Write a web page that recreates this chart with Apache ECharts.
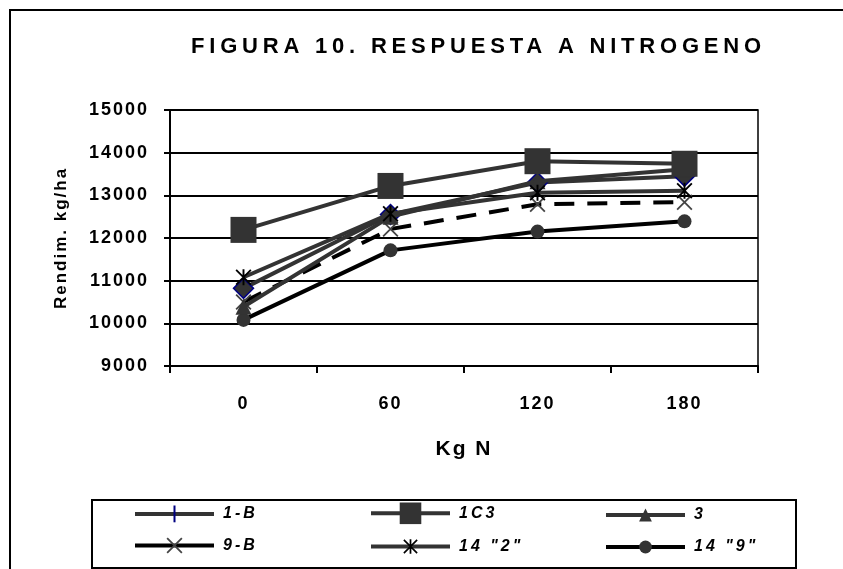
<!DOCTYPE html>
<html>
<head>
<meta charset="utf-8">
<script src="https://cdn.jsdelivr.net/npm/echarts@6/dist/echarts.min.js"></script>
<style>
html,body{margin:0;padding:0;background:#fff;}
#chart{width:843px;height:569px;}
</style>
</head>
<body>
<div id="chart"></div>
<script>
// ---- data ----
const categories = ['0', '60', '120', '180'];
const seriesNames = ['1-B', '1C3', '3', '9-B', '14 "2"', '14 "9"'];
const s1B   = [10820, 12550, 13300, 13450];
const s1C3  = [12190, 13220, 13800, 13740];
const s3    = [10390, 12500, 13330, 13610];
const s9B   = [10500, 12210, 12790, 12840];
const s14_2 = [11080, 12570, 13060, 13110];
const s14_9 = [10080, 11710, 12150, 12390];
const yTicks = [9000, 10000, 11000, 12000, 13000, 14000, 15000];

const TITLE = 'FIGURA 10. RESPUESTA A NITROGENO';

// letter spacing like the original (canvas letterSpacing)
(function () {
  const proto = CanvasRenderingContext2D.prototype;
  const orig = proto.fillText;
  proto.fillText = function (t, x, y, m) {
    const prev = this.letterSpacing;
    let ls = '2px';
    if (t === TITLE) ls = '4.8px';
    else if (seriesNames.indexOf(t) >= 0) ls = '3px';
    this.letterSpacing = ls;
    if (m === undefined) orig.call(this, t, x, y); else orig.call(this, t, x, y, m);
    this.letterSpacing = prev;
  };
})();

const FONT = 'Liberation Sans, Arial, sans-serif';
const GRAY = '#333333';

const X_PATH = 'path://M0,0.8 L0.8,0 L10,9.2 L9.2,10 Z M9.2,0 L10,0.8 L0.8,10 L0,9.2 Z';
const AST_PATH = 'path://M0,0.8 L0.8,0 L10,9.2 L9.2,10 Z M9.2,0 L10,0.8 L0.8,10 L0,9.2 Z M4.4,0 L5.6,0 L5.6,10 L4.4,10 Z';
const BAR_PATH = 'path://M0,0 L0,0 M4.4,0 L5.6,0 L5.6,10 L4.4,10 Z M10,10 L10,10';

const chart = echarts.init(document.getElementById('chart'), null, {renderer: 'canvas'});

function legendAt(name, left, rowCenter, itemHeight, lineType) {
  return {
    data: [name], left: left, top: rowCenter - itemHeight / 2,
    itemWidth: 79, itemHeight: itemHeight, padding: 0, selectedMode: false,
    symbolKeepAspect: true,
    lineStyle: lineType ? {width: 4, type: lineType} : {width: 4},
    textStyle: {fontFamily: FONT, fontWeight: 'bold', fontStyle: 'italic', fontSize: 16, color: '#000', padding: [0, 0, 0, 4]}
  };
}

const option = {
  animation: false,
  backgroundColor: '#fff',
  title: {
    text: TITLE, left: 191, top: 36, padding: 0,
    textStyle: {fontFamily: FONT, fontWeight: 'bold', fontSize: 22, color: '#000'}
  },
  graphic: [
    {type: 'rect', shape: {x: 10, y: 10, width: 845, height: 575}, style: {fill: 'none', stroke: '#000', lineWidth: 2}, silent: true},
    {type: 'rect', shape: {x: 92, y: 500, width: 704, height: 68}, style: {fill: 'none', stroke: '#000', lineWidth: 2}, silent: true}
  ],
  legend: [
    legendAt(seriesNames[0], 133, 516, 21),
    legendAt(seriesNames[1], 369, 516, 27),
    legendAt(seriesNames[2], 604, 515, 16),
    legendAt(seriesNames[3], 133, 547.5, 20, 'solid'),
    legendAt(seriesNames[4], 369, 547.5, 18),
    legendAt(seriesNames[5], 604, 547, 16)
  ],
  grid: {
    left: 170, top: 110, right: 843 - 758, bottom: 569 - 366,
    show: true, borderColor: '#000', borderWidth: 1.5, containLabel: false
  },
  xAxis: {
    type: 'category', data: categories, boundaryGap: true,
    name: 'Kg N', nameLocation: 'middle', nameGap: 73,
    nameTextStyle: {fontFamily: FONT, fontWeight: 'bold', fontSize: 21, color: '#000'},
    axisLine: {show: true, lineStyle: {color: '#000', width: 2}},
    axisTick: {show: true, length: 7, lineStyle: {color: '#000', width: 2}},
    axisLabel: {fontFamily: FONT, fontWeight: 'bold', fontSize: 18, color: '#000', margin: 29},
    splitLine: {show: false}
  },
  yAxis: {
    type: 'value', min: yTicks[0], max: yTicks[yTicks.length - 1], interval: yTicks[1] - yTicks[0],
    name: 'Rendim. kg/ha', nameLocation: 'middle', nameGap: 100, nameRotate: 90,
    nameTextStyle: {fontFamily: FONT, fontWeight: 'bold', fontSize: 17, color: '#000'},
    axisLine: {show: true, lineStyle: {color: '#000', width: 2}},
    axisTick: {show: true, length: 6, lineStyle: {color: '#000', width: 2}},
    axisLabel: {fontFamily: FONT, fontWeight: 'bold', fontSize: 18, color: '#000', margin: 21,
      formatter: v => String(v)},
    splitLine: {show: true, lineStyle: {color: '#000', width: 2}}
  },
  series: [
    {
      name: seriesNames[0], type: 'line',
      data: s1B.map(v => ({value: v, symbol: 'diamond', symbolSize: [20, 20], itemStyle: {color: GRAY, borderColor: '#000080', borderWidth: 1.5}})),
      symbol: BAR_PATH, symbolSize: 17, symbolKeepAspect: true,
      lineStyle: {color: GRAY, width: 4}, itemStyle: {color: '#000080'}, z: 3
    },
    {
      name: seriesNames[1], type: 'line', data: s1C3, symbol: 'rect', symbolSize: 26,
      lineStyle: {color: GRAY, width: 4}, itemStyle: {color: GRAY}, z: 6
    },
    {
      name: seriesNames[2], type: 'line', data: s3, symbol: 'triangle', symbolSize: 16,
      lineStyle: {color: GRAY, width: 4}, itemStyle: {color: GRAY}, z: 4
    },
    {
      name: seriesNames[3], type: 'line', data: s9B, symbol: X_PATH, symbolSize: 16,
      lineStyle: {color: '#000', width: 4, type: [20, 13]}, itemStyle: {color: '#444'}, z: 2
    },
    {
      name: seriesNames[4], type: 'line', data: s14_2, symbol: AST_PATH, symbolSize: 16,
      lineStyle: {color: GRAY, width: 4}, itemStyle: {color: '#000'}, z: 5
    },
    {
      name: seriesNames[5], type: 'line', data: s14_9, symbol: 'circle', symbolSize: 14,
      lineStyle: {color: '#000', width: 4}, itemStyle: {color: GRAY}, z: 1
    }
  ]
};
chart.setOption(option);
</script>
</body>
</html>
